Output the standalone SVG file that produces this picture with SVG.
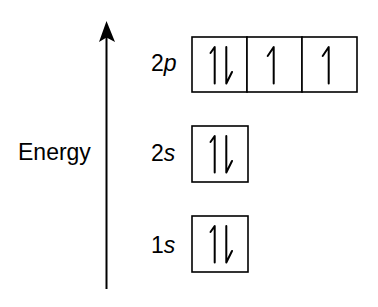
<svg xmlns="http://www.w3.org/2000/svg" width="378" height="307" viewBox="0 0 378 307">
<style>
.box{fill:#fff;stroke:#000;stroke-width:1.6}
.sp{fill:none;stroke:#000;stroke-width:2;stroke-linecap:round;stroke-linejoin:round}
.lbl{font-family:"Liberation Sans",Arial,sans-serif;font-size:23px;fill:#000}
.ax{stroke:#000;stroke-width:2;fill:none}
</style>
<rect width="378" height="307" fill="#fff"/>
<g id="connectors">
<line class="ax" x1="106.5" y1="289" x2="106.5" y2="36"/>
<path d="M106.5,21 L99,42 L106.5,37.5 L115,42 Z" fill="#000"/>
</g>
<g id="energy"><text class="lbl" x="18" y="160" font-size="24">Energy</text></g>
<g id="orb2p">
<text class="lbl" x="151" y="71">2<tspan font-style="italic">p</tspan></text>
<rect class="box" x="192" y="37" width="55" height="55"/>
<rect class="box" x="247" y="37" width="55" height="55"/>
<rect class="box" x="302" y="37" width="55" height="55"/>
<path class="sp" d="M210.5,53 L214.7,47 L214.7,83.5"/>
<path class="sp" d="M226.3,47 L226.3,83.5 L232,72"/>
<path class="sp" d="M267.7,56 L273.7,47 L273.7,83.5"/>
<path class="sp" d="M322.7,56 L328.7,47 L328.7,83.5"/>
</g>
<g id="orb2s">
<text class="lbl" x="151" y="161">2<tspan font-style="italic">s</tspan></text>
<rect class="box" x="192" y="126" width="56" height="56"/>
<path class="sp" d="M210.5,142 L214.7,136 L214.7,172.5"/>
<path class="sp" d="M226.3,136 L226.3,172.5 L232,161"/>
</g>
<g id="orb1s">
<text class="lbl" x="151" y="253">1<tspan font-style="italic">s</tspan></text>
<rect class="box" x="192" y="216" width="56" height="56"/>
<path class="sp" d="M210.5,232 L214.7,226 L214.7,262.5"/>
<path class="sp" d="M226.3,226 L226.3,262.5 L232,251"/>
</g>
</svg>
